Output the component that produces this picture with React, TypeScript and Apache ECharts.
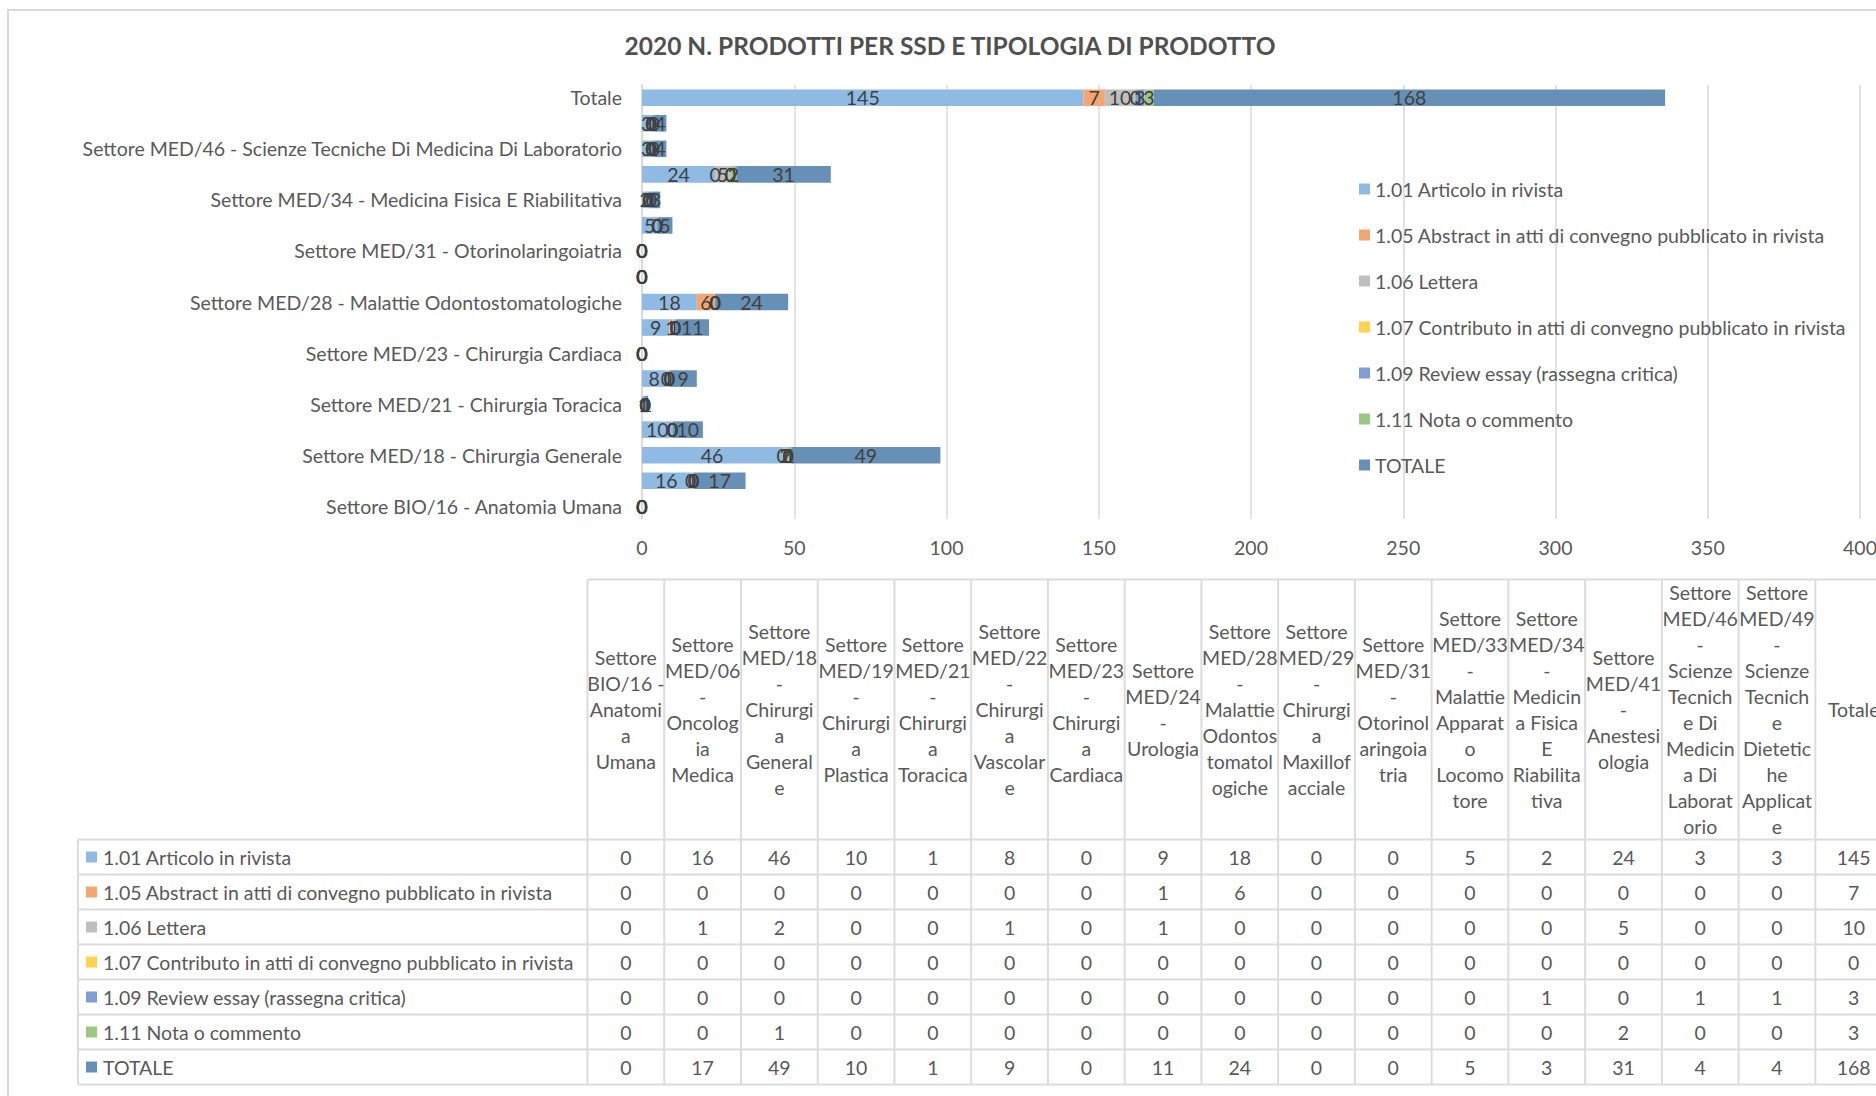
import React, { useEffect, useRef } from 'react';
import * as echarts from 'echarts';

const categories = [
  'Settore BIO/16 - Anatomia Umana',
  'Settore MED/06 - Oncologia Medica',
  'Settore MED/18 - Chirurgia Generale',
  'Settore MED/19 - Chirurgia Plastica',
  'Settore MED/21 - Chirurgia Toracica',
  'Settore MED/22 - Chirurgia Vascolare',
  'Settore MED/23 - Chirurgia Cardiaca',
  'Settore MED/24 - Urologia',
  'Settore MED/28 - Malattie Odontostomatologiche',
  'Settore MED/29 - Chirurgia Maxillofacciale',
  'Settore MED/31 - Otorinolaringoiatria',
  'Settore MED/33 - Malattie Apparato Locomotore',
  'Settore MED/34 - Medicina Fisica E Riabilitativa',
  'Settore MED/41 - Anestesiologia',
  'Settore MED/46 - Scienze Tecniche Di Medicina Di Laboratorio',
  'Settore MED/49 - Scienze Tecniche Dietetiche Applicate',
  'Totale',
];

// Table header texts (same names, wrapped as in the reference table)
const tableHeaders = [
  'Settore\nBIO/16 -\nAnatomi\na\nUmana',
  'Settore\nMED/06\n-\nOncolog\nia\nMedica',
  'Settore\nMED/18\n-\nChirurgi\na\nGeneral\ne',
  'Settore\nMED/19\n-\nChirurgi\na\nPlastica',
  'Settore\nMED/21\n-\nChirurgi\na\nToracica',
  'Settore\nMED/22\n-\nChirurgi\na\nVascolar\ne',
  'Settore\nMED/23\n-\nChirurgi\na\nCardiaca',
  'Settore\nMED/24\n-\nUrologia',
  'Settore\nMED/28\n-\nMalattie\nOdontos\ntomatol\nogiche',
  'Settore\nMED/29\n-\nChirurgi\na\nMaxillof\nacciale',
  'Settore\nMED/31\n-\nOtorinol\naringoia\ntria',
  'Settore\nMED/33\n-\nMalattie\nApparat\no\nLocomo\ntore',
  'Settore\nMED/34\n-\nMedicin\na Fisica\nE\nRiabilita\ntiva',
  'Settore\nMED/41\n-\nAnestesi\nologia',
  'Settore\nMED/46\n-\nScienze\nTecnich\ne Di\nMedicin\na Di\nLaborat\norio',
  'Settore\nMED/49\n-\nScienze\nTecnich\ne\nDietetic\nhe\nApplicat\ne',
  'Totale',
];

const seriesNames = [
  '1.01 Articolo in rivista',
  '1.05 Abstract in atti di convegno pubblicato in rivista',
  '1.06 Lettera',
  '1.07 Contributo in atti di convegno pubblicato in rivista',
  '1.09 Review essay (rassegna critica)',
  '1.11 Nota o commento',
  'TOTALE',
];

const articolo = [0, 16, 46, 10, 1, 8, 0, 9, 18, 0, 0, 5, 2, 24, 3, 3, 145];
const abstractAtti = [0, 0, 0, 0, 0, 0, 0, 1, 6, 0, 0, 0, 0, 0, 0, 0, 7];
const lettera = [0, 1, 2, 0, 0, 1, 0, 1, 0, 0, 0, 0, 0, 5, 0, 0, 10];
const contributo = [0, 0, 0, 0, 0, 0, 0, 0, 0, 0, 0, 0, 0, 0, 0, 0, 0];
const review = [0, 0, 0, 0, 0, 0, 0, 0, 0, 0, 0, 0, 1, 0, 1, 1, 3];
const nota = [0, 0, 1, 0, 0, 0, 0, 0, 0, 0, 0, 0, 0, 2, 0, 0, 3];
const totale = [0, 17, 49, 10, 1, 9, 0, 11, 24, 0, 0, 5, 3, 31, 4, 4, 168];

const seriesValues = [articolo, abstractAtti, lettera, contributo, review, nota, totale];

const colors = ['#8FBAE3', '#F3A672', '#BFBFBF', '#FFD34D', '#7F9ED7', '#9DC680', '#6690B6'];

const FONT = 'Lato, "Open Sans", sans-serif';
const TEXT = '#595959';
const GRID = '#d9d9d9';
const FS = 19.5;

export default function App() {
  const ref = useRef<HTMLDivElement>(null);

  useEffect(() => {
    if (!ref.current) return;
    const chart = echarts.init(ref.current, null, { renderer: 'svg' });

    const graphics: any[] = [];
    // chart border
    graphics.push({
      type: 'rect',
      silent: true,
      shape: { x: 8, y: 10, width: 1940, height: 1300 },
      style: { fill: 'none', stroke: GRID, lineWidth: 2 },
    });

    // data table
    const colLeft = 587.5;
    const colW = 76.74;
    const headerTop = 579.5;
    const headerBottom = 839.5;
    const rowH = 35;
    const tableLeft = 78;
    const nCols = tableHeaders.length;
    const tableRight = colLeft + nCols * colW;
    const tableBottom = headerBottom + seriesNames.length * rowH;
    const lineStyle = { stroke: '#dcdcdc', lineWidth: 2 };

    graphics.push({
      type: 'line', silent: true,
      shape: { x1: colLeft, y1: headerTop, x2: tableRight, y2: headerTop },
      style: lineStyle,
    });
    for (let i = 0; i <= nCols; i++) {
      const x = colLeft + i * colW;
      graphics.push({
        type: 'line', silent: true,
        shape: { x1: x, y1: headerTop, x2: x, y2: tableBottom },
        style: lineStyle,
      });
    }
    graphics.push({
      type: 'line', silent: true,
      shape: { x1: tableLeft, y1: headerBottom, x2: tableLeft, y2: tableBottom },
      style: lineStyle,
    });
    for (let k = 0; k <= seriesNames.length; k++) {
      const y = headerBottom + k * rowH;
      graphics.push({
        type: 'line', silent: true,
        shape: { x1: tableLeft, y1: y, x2: tableRight, y2: y },
        style: lineStyle,
      });
    }
    tableHeaders.forEach((h, i) => {
      graphics.push({
        type: 'text', silent: true,
        x: colLeft + (i + 0.5) * colW,
        y: (headerTop + headerBottom) / 2,
        style: {
          text: h, fill: TEXT, fontSize: FS, fontFamily: FONT,
          lineHeight: 26, align: 'center', verticalAlign: 'middle',
        },
      });
    });
    seriesNames.forEach((name, s) => {
      const yc = headerBottom + (s + 0.5) * rowH;
      graphics.push({
        type: 'rect', silent: true,
        shape: { x: 86, y: yc - 5.5, width: 11, height: 11 },
        style: { fill: colors[s] },
      });
      graphics.push({
        type: 'text', silent: true,
        x: 103, y: yc,
        style: {
          text: name, fill: TEXT, fontSize: FS, fontFamily: FONT,
          align: 'left', verticalAlign: 'middle',
        },
      });
      seriesValues[s].forEach((v, i) => {
        graphics.push({
          type: 'text', silent: true,
          x: colLeft + (i + 0.5) * colW, y: yc,
          style: {
            text: String(v), fill: TEXT, fontSize: FS, fontFamily: FONT,
            align: 'center', verticalAlign: 'middle',
          },
        });
      });
    });

    const option: any = {
      animation: false,
      backgroundColor: '#ffffff',
      title: {
        text: '2020 N. PRODOTTI PER SSD E TIPOLOGIA DI PRODOTTO',
        left: 945,
        top: 28,
        textAlign: 'center',
        textStyle: { color: '#505050', fontSize: 24.5, fontWeight: 'bold', fontFamily: FONT },
      },
      legend: {
        orient: 'vertical',
        left: 1359,
        top: 179,
        padding: 0,
        itemWidth: 11,
        itemHeight: 11,
        itemGap: 26,
        icon: 'rect',
        data: seriesNames,
        textStyle: { color: TEXT, fontSize: FS, lineHeight: 20, fontFamily: FONT },
      },
      grid: { left: 642, top: 85, width: 1218, height: 434, containLabel: false },
      xAxis: {
        type: 'value',
        min: 0,
        max: 400,
        interval: 50,
        axisLine: { show: false },
        axisTick: { show: false },
        splitLine: { show: true, lineStyle: { color: GRID, width: 1.5 } },
        axisLabel: { color: TEXT, fontSize: FS, fontFamily: FONT, margin: 18 },
      },
      yAxis: {
        type: 'category',
        data: categories,
        axisLine: { show: true, lineStyle: { color: GRID, width: 1.5 } },
        axisTick: { show: false },
        axisLabel: { interval: 1, color: TEXT, fontSize: FS, fontFamily: FONT, margin: 20 },
      },
      series: seriesNames.map((name, s) => ({
        name,
        type: 'bar',
        stack: 'tot',
        barCategoryGap: '35%',
        data: seriesValues[s],
        itemStyle: { color: colors[s] },
        label: {
          show: true,
          position: 'inside',
          color: '#404040',
          fontSize: FS,
          fontFamily: FONT,
        },
      })),
      graphic: graphics,
    };

    chart.setOption(option);
    return () => chart.dispose();
  }, []);

  return (
    <div
      style={{
        position: 'fixed', left: 0, top: 0, width: 1876, height: 1096,
        overflow: 'hidden', background: '#ffffff',
      }}
    >
      <div ref={ref} style={{ width: 1960, height: 1096 }} />
    </div>
  );
}
